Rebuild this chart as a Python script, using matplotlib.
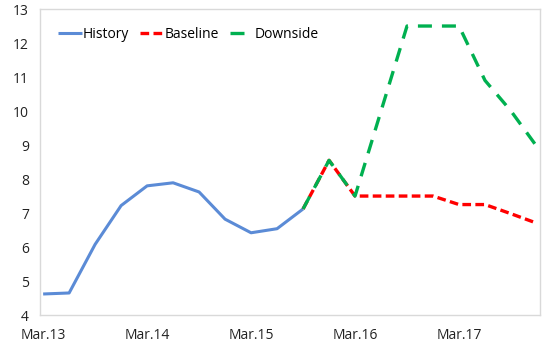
import matplotlib
matplotlib.use("Agg")
import matplotlib.pyplot as plt
import numpy as np

plt.rcParams['font.family'] = ['Open Sans', 'DejaVu Sans']

quarters = ["Mar.13", "Jun.13", "Sep.13", "Dec.13", "Mar.14", "Jun.14", "Sep.14", "Dec.14",
            "Mar.15", "Jun.15", "Sep.15", "Dec.15", "Mar.16", "Jun.16", "Sep.16", "Dec.16",
            "Mar.17", "Jun.17", "Sep.17", "Dec.17"]
history = [4.62, 4.65, 6.08, 7.22, 7.80, 7.89, 7.62, 6.82, 6.42, 6.54, 7.12]
baseline = [7.12, 8.55, 7.50, 7.50, 7.50, 7.50, 7.25, 7.25, 6.98, 6.70]
downside = [7.12, 8.55, 7.50, 10.0, 12.5, 12.5, 12.5, 10.9, 10.0, 8.95]
tick_labels = ["Mar.13", "Mar.14", "Mar.15", "Mar.16", "Mar.17"]

fig = plt.figure(figsize=(5.43, 3.47), dpi=100)
ax = fig.add_axes([0.0737, 0.092, 0.920, 0.882])

x_hist = np.arange(len(history))
x_fc = np.arange(len(history) - 1, len(history) - 1 + len(baseline))

ax.plot(x_hist, history, color="#5B8BD6", lw=2.2, label="History", solid_capstyle="butt")
ax.plot(x_fc, baseline, color="#FF0000", lw=2.4, dashes=(2.6, 1.3), label="Baseline")
ax.plot(x_fc, downside, color="#00B050", lw=2.4, dashes=(4.2, 3.0), label="Downside")

ax.set_xlim(-0.12, 19.1)
ax.set_ylim(4, 13)
ax.set_yticks(range(4, 14))
ticks = [quarters.index(t) for t in tick_labels]
ax.set_xticks(ticks)
ax.set_xticklabels(tick_labels)
ax.tick_params(axis="both", length=0, labelsize=10, colors="#222222")
ax.tick_params(axis="x", pad=9)
ax.tick_params(axis="y", pad=8)
for s in ax.spines.values():
    s.set_color("#D9D9D9")
    s.set_linewidth(1.0)

leg = ax.legend(loc="upper left", ncol=3, frameon=False, fontsize=10,
                handlelength=1.7, handletextpad=0.1, columnspacing=0.75,
                borderpad=0, borderaxespad=0,
                bbox_to_anchor=(0.036, 0.942))

fig.savefig("out.png", dpi=100)
